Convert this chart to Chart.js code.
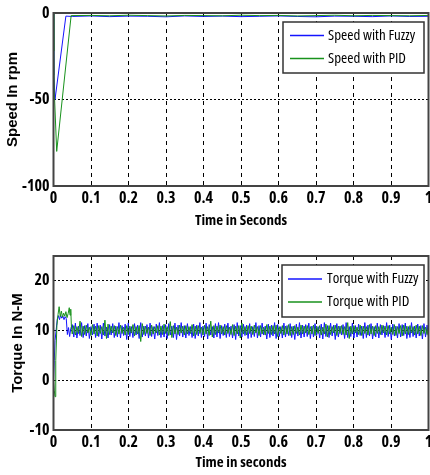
<!DOCTYPE html>
<html>
<head>
<meta charset="utf-8">
<script src="https://cdn.jsdelivr.net/npm/chart.js@4.4.1/dist/chart.umd.min.js"></script>
<style>
html, body { margin: 0; padding: 0; background: #fff; }
canvas { display: block; }
</style>
</head>
<body>
<canvas id="speedCanvas" width="430" height="240"></canvas>
<canvas id="torqueCanvas" width="430" height="235"></canvas>
<script>
// x axis (shared)
const xTickValues = [0, 0.1, 0.2, 0.3, 0.4, 0.5, 0.6, 0.7, 0.8, 0.9, 1];
const xTickLabels = ['0', '0.1', '0.2', '0.3', '0.4', '0.5', '0.6', '0.7', '0.8', '0.9', '1'];

// speed plot
const speedTickValues = [-100, -50, 0];
const speedTickLabels = ['-100', '-50', '0'];
const speedFuzzyT = [0, 0.0005, 0.001, 0.004, 0.033, 0.05, 0.1, 0.15, 0.2, 0.25, 0.3, 0.35, 0.4, 0.45, 0.5, 0.55, 0.6, 0.65, 0.7, 0.75, 0.8, 0.85, 0.9, 0.95, 1.0];
const speedFuzzyV = [0, -32, -36, -50, -1.8, -2.0, -1.7, -2.1, -1.8, -1.9, -2.2, -1.7, -2.0, -1.8, -2.1, -1.9, -1.7, -2.0, -2.2, -1.8, -1.9, -2.1, -1.7, -2.0, -1.9];
const speedPidT = [0, 0.001, 0.002, 0.0085, 0.047, 0.1, 0.15, 0.2, 0.25, 0.3, 0.35, 0.4, 0.45, 0.5, 0.55, 0.6, 0.65, 0.7, 0.75, 0.8, 0.85, 0.9, 0.95, 1.0];
const speedPidV = [0, -22, -45, -80, -1.5, -1.4, -1.6, -1.3, -1.5, -1.7, -1.4, -1.5, -1.6, -1.3, -1.5, -1.4, -1.7, -1.5, -1.3, -1.6, -1.4, -1.5, -1.6, -1.4];

// torque plot
const torqueTickValues = [-10, 0, 10, 20];
const torqueTickLabels = ['-10', '0', '10', '20'];
const torqueFuzzyT = [0, 0.002, 0.004, 0.007, 0.010, 0.013, 0.016, 0.019, 0.022, 0.025, 0.028, 0.031, 0.034, 0.037, 0.040, 0.043, 0.046];
const torqueFuzzyV = [0, 4, 8, 10, 12.3, 13.0, 12.2, 13.1, 12.5, 12.9, 12.2, 12.8, 12.4, 9.2, 10.6, 8.8, 10.4];
const torquePidT = [0, 0.002, 0.004, 0.006, 0.009, 0.012, 0.015, 0.018, 0.021, 0.024, 0.027, 0.030, 0.033, 0.036, 0.039, 0.042, 0.044, 0.046, 0.048];
const torquePidV = [0, -2, -3.3, 4, 11, 13.2, 14.8, 12.8, 13.9, 12.7, 13.5, 12.9, 13.8, 12.6, 13.4, 14.6, 13.1, 14.3, 10.2];

// steady-state ripple, sampled every torqueStep seconds from torqueStart
const torqueStart = 0.05;
const torqueStep = 0.00415;
const torqueFuzzyRipple = [
    11.2, 8.7, 11.5, 8.5, 10.9, 9.0, 11.6, 8.6, 11.0, 8.9,
    11.4, 8.4, 10.8, 9.1, 11.3, 8.6, 11.5, 8.8, 11.1, 8.3,
    11.5, 8.9, 10.7, 8.5, 11.2, 9.1, 11.4, 8.6, 10.9, 8.7,
    11.6, 8.5, 11.0, 9.0, 11.3, 8.2, 11.5, 8.8, 10.8, 8.6,
    11.4, 9.1, 11.1, 8.4, 11.6, 8.7, 10.9, 8.9, 11.2, 8.5,
    11.5, 8.8, 10.8, 8.3, 11.3, 9.0, 11.6, 8.6, 11.0, 8.7,
    11.2, 8.4, 11.4, 9.1, 10.9, 8.6, 11.5, 8.2, 11.1, 8.9,
    11.6, 8.7, 11.0, 8.5, 11.4, 9.0, 10.8, 8.6, 11.3, 8.4,
    11.1, 8.9, 11.6, 8.6, 10.9, 8.8, 11.5, 8.3, 11.2, 9.1,
    10.8, 8.5, 11.4, 8.7, 11.6, 8.4, 11.0, 9.0, 11.3, 8.6,
    11.5, 8.8, 10.9, 8.5, 11.2, 8.2, 11.6, 8.9, 11.0, 8.7,
    11.3, 9.0, 11.1, 8.4, 11.4, 8.6, 10.8, 8.8, 11.6, 8.5,
    11.0, 8.7, 11.5, 9.1, 10.9, 8.3, 11.3, 8.6, 11.1, 8.9,
    11.6, 8.4, 11.2, 8.8, 10.8, 8.5, 11.5, 8.7, 11.0, 9.0,
    11.4, 8.6, 10.9, 8.2, 11.3, 8.9, 11.6, 8.5, 11.1, 8.7,
    11.2, 8.8, 11.5, 8.4, 10.9, 8.7, 11.4, 9.0, 10.8, 8.5,
    11.3, 8.3, 11.6, 8.8, 11.0, 8.6, 11.5, 8.9, 11.1, 8.2,
    11.4, 8.7, 10.9, 9.1, 11.2, 8.4, 11.6, 8.6, 10.8, 8.8,
    11.5, 8.5, 11.0, 8.7, 11.3, 9.0, 10.9, 8.4, 11.6, 8.6,
    11.1, 8.9, 11.4, 8.3, 10.8, 8.7, 11.5, 8.5, 11.2, 9.1,
    11.0, 8.6, 11.6, 8.8, 11.1, 8.2, 11.3, 8.9, 10.9, 8.5,
    11.4, 8.7, 11.2, 9.0, 11.5, 8.4, 10.8, 8.6, 11.6, 8.8,
    10.9, 8.5, 11.3, 8.9, 11.0, 8.3, 11.4, 8.7, 11.1, 8.6
];
const torquePidRipple = [
    9.3, 11.0, 9.1, 10.8, 9.4, 11.9, 8.8, 10.9, 9.2, 11.1,
    9.5, 10.7, 9.0, 11.2, 9.3, 10.9, 8.9, 11.0, 9.4, 10.8,
    9.1, 12.1, 8.4, 11.3, 9.2, 10.9, 9.5, 11.0, 9.0, 10.8,
    9.3, 11.1, 9.4, 10.7, 9.1, 11.0, 9.2, 10.9, 9.5, 11.2,
    8.9, 10.8, 9.3, 11.0, 7.8, 11.4, 9.2, 10.9, 9.4, 10.7,
    9.0, 11.1, 9.3, 10.8, 9.5, 11.0, 9.1, 10.9, 9.2, 11.3,
    9.4, 10.8, 9.0, 11.8, 8.6, 11.0, 9.3, 10.7, 9.2, 11.1,
    9.5, 10.9, 9.1, 11.0, 9.3, 10.8, 9.4, 11.2, 8.9, 10.9,
    9.2, 11.0, 9.4, 10.7, 9.1, 11.1, 9.3, 10.8, 9.0, 11.9,
    8.7, 11.0, 9.2, 10.9, 9.5, 11.1, 9.3, 10.8, 9.1, 11.0,
    9.4, 10.7, 9.2, 11.2, 9.0, 10.9, 9.3, 11.0, 8.5, 11.5,
    9.3, 10.8, 9.1, 11.0, 9.4, 10.9, 9.2, 11.1, 9.5, 10.8,
    9.0, 11.0, 9.3, 10.7, 9.1, 11.2, 9.4, 10.9, 9.2, 11.0,
    9.3, 11.1, 8.8, 10.8, 9.4, 11.0, 9.1, 10.9, 9.3, 11.2,
    9.0, 10.8, 9.2, 11.0, 9.4, 10.7, 9.1, 11.1, 9.3, 10.9,
    9.5, 11.0, 9.2, 10.8, 9.3, 11.1, 9.0, 10.9, 9.4, 11.0,
    9.1, 10.7, 9.3, 11.3, 8.7, 11.0, 9.2, 10.8, 9.5, 11.1,
    9.0, 10.9, 9.4, 11.0, 9.2, 10.8, 9.1, 11.6, 8.4, 10.9,
    9.3, 11.0, 9.5, 10.7, 9.2, 11.1, 9.0, 10.9, 9.4, 10.8,
    9.1, 11.2, 9.3, 10.9, 9.0, 11.0, 9.4, 10.8, 9.2, 11.1,
    9.5, 10.9, 9.1, 11.0, 9.3, 10.7, 9.2, 11.2, 9.0, 10.8,
    9.4, 11.0, 8.9, 11.1, 9.3, 10.9, 9.2, 11.0, 9.5, 10.8,
    9.1, 11.1, 9.3, 10.9, 9.0, 11.0, 9.4, 10.7, 9.2, 11.0
];

const BLUE = '#1414ff';
const GREEN = '#18921c';
const OPEN = '"Open Sans", "DejaVu Sans", sans-serif';
const SANS = '"Liberation Sans", Arial, sans-serif';
// 'condensed' goes into the css font shorthand next to the weight
const tickFont = { family: OPEN, size: 16, weight: 'bold condensed' };
const xTitleFont = { family: OPEN, size: 15, weight: 'bold condensed' };
const legendFont = 'condensed 15px ' + OPEN;

function toPoints(times, values) {
    return times.map((t, i) => ({ x: t, y: values[i] }));
}

function ripplePoints(values) {
    return values.map((v, i) => ({ x: torqueStart + i * torqueStep, y: v }));
}

// plot frame drawn over the data, like the matlab axes box
const frameBox = {
    id: 'frameBox',
    afterDatasetsDraw(chart) {
        const { ctx, chartArea: a } = chart;
        ctx.save();
        ctx.strokeStyle = '#444';
        ctx.lineWidth = 2;
        ctx.strokeRect(a.left, a.top, a.right - a.left, a.bottom - a.top);
        ctx.restore();
    }
};

// legend with a border, inside the plot area
const boxLegend = {
    id: 'boxLegend',
    afterDraw(chart, args, o) {
        const ctx = chart.ctx;
        ctx.save();
        ctx.fillStyle = '#fff';
        ctx.fillRect(o.x, o.y, o.w, o.h);
        ctx.strokeStyle = '#333';
        ctx.lineWidth = 1.5;
        ctx.strokeRect(o.x, o.y, o.w, o.h);
        ctx.font = o.font;
        ctx.textBaseline = 'middle';
        chart.data.datasets.forEach((ds, i) => {
            const y = o.y + o.rows[i];
            ctx.strokeStyle = ds.borderColor;
            ctx.lineWidth = 1.5;
            ctx.beginPath();
            ctx.moveTo(o.x + o.lineStart, y);
            ctx.lineTo(o.x + o.lineEnd, y);
            ctx.stroke();
            ctx.fillStyle = '#000';
            ctx.fillText(ds.label, o.x + o.textStart, y);
        });
        ctx.restore();
    }
};

function buildChart(canvasId, cfg) {
    const n = cfg.series.length;
    return new Chart(document.getElementById(canvasId), {
        type: 'line',
        data: {
            datasets: cfg.series.map((s, i) => ({
                label: s.label,
                data: s.points,
                borderColor: s.color,
                borderWidth: 1,
                pointRadius: 0,
                tension: 0,
                fill: false,
                order: n - 1 - i
            }))
        },
        options: {
            responsive: false,
            animation: false,
            events: [],
            layout: { padding: { top: cfg.top, right: 1.5, left: 0, bottom: 0 } },
            plugins: {
                legend: { display: false },
                tooltip: { enabled: false },
                boxLegend: cfg.legend
            },
            scales: {
                x: {
                    type: 'linear',
                    min: 0,
                    max: 1,
                    afterBuildTicks: s => { s.ticks = xTickValues.map(v => ({ value: v })); },
                    afterFit: s => { s.height = cfg.xAxisHeight; s.paddingLeft = 0; s.paddingRight = 0; },
                    ticks: {
                        autoSkip: false,
                        maxRotation: 0,
                        padding: 3,
                        color: '#000',
                        font: tickFont,
                        callback: (v, i) => xTickLabels[i]
                    },
                    grid: { color: '#000', lineWidth: 1, drawTicks: false },
                    border: { display: false, dash: [4, 4] },
                    title: {
                        display: true,
                        text: cfg.xTitle,
                        color: '#000',
                        font: xTitleFont,
                        padding: { top: 0, bottom: cfg.xTitlePad }
                    }
                },
                y: {
                    type: 'linear',
                    min: cfg.yMin,
                    max: cfg.yMax,
                    afterBuildTicks: s => { s.ticks = cfg.yTicks.map(v => ({ value: v })); },
                    afterFit: s => { s.width = 53.5; s.paddingTop = 0; s.paddingBottom = 0; },
                    ticks: {
                        autoSkip: false,
                        padding: 4,
                        color: '#000',
                        font: tickFont,
                        callback: (v, i) => cfg.yLabels[i]
                    },
                    grid: { color: '#000', lineWidth: 1, drawTicks: false },
                    border: { display: false, dash: [2, 2] },
                    title: {
                        display: true,
                        text: cfg.yTitle,
                        color: '#000',
                        font: { family: SANS, size: 15, weight: 'bold' },
                        padding: { top: cfg.yTitlePad, bottom: 0 }
                    }
                }
            }
        },
        plugins: [frameBox, boxLegend]
    });
}

buildChart('speedCanvas', {
    top: 13,
    xAxisHeight: 54,
    xTitle: 'Time in Seconds',
    xTitlePad: 10,
    yTitle: 'Speed In rpm',
    yTitlePad: 4,
    yMin: -100,
    yMax: 0,
    yTicks: speedTickValues,
    yLabels: speedTickLabels,
    series: [
        { label: 'Speed with Fuzzy', color: BLUE, points: toPoints(speedFuzzyT, speedFuzzyV) },
        { label: 'Speed with PID', color: GREEN, points: toPoints(speedPidT, speedPidV) }
    ],
    legend: { x: 283, y: 22, w: 141, h: 51, rows: [13.5, 36.5], lineStart: 7, lineEnd: 41, textStart: 45, font: legendFont }
});

buildChart('torqueCanvas', {
    top: 16,
    xAxisHeight: 45,
    xTitle: 'Time in seconds',
    xTitlePad: 3,
    yTitle: 'Torque In N-M',
    yTitlePad: 9,
    yMin: -10,
    yMax: 25,
    yTicks: torqueTickValues,
    yLabels: torqueTickLabels,
    series: [
        { label: 'Torque with Fuzzy', color: BLUE, points: toPoints(torqueFuzzyT, torqueFuzzyV).concat(ripplePoints(torqueFuzzyRipple)) },
        { label: 'Torque with PID', color: GREEN, points: toPoints(torquePidT, torquePidV).concat(ripplePoints(torquePidRipple)) }
    ],
    legend: { x: 282, y: 25, w: 142, h: 52, rows: [14, 37], lineStart: 6, lineEnd: 40, textStart: 45, font: legendFont }
});
</script>
</body>
</html>
